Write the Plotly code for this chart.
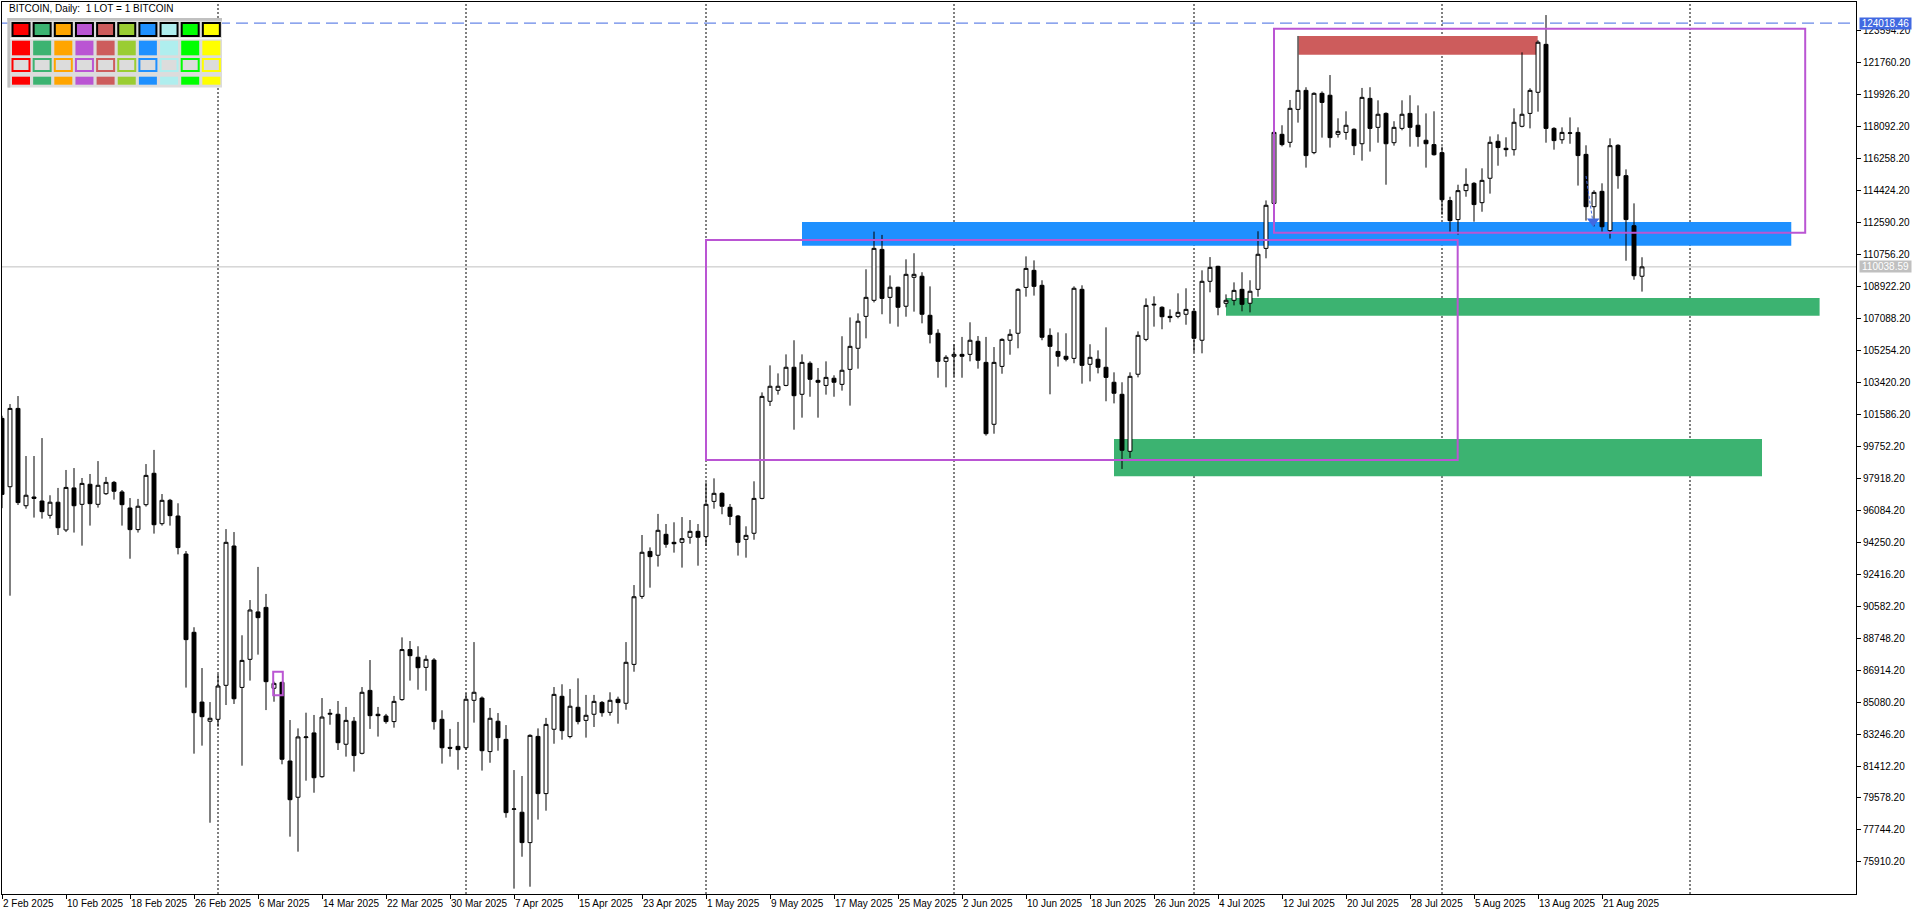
import pandas as pd
import plotly.graph_objects as go

BASE = pd.Timestamp("2025-02-02")
dates = pd.date_range(BASE, periods=206, freq="D")

opens = [
    101350, 97430, 101920, 96340, 96840, 96610, 95790, 96540, 94950, 97360,
    96420, 97570, 96420, 97030, 97680, 97130, 96210, 94970, 96400, 98200,
    95310, 96650, 95750, 93570, 89080, 85080, 83980, 84090, 86040, 94030,
    85920, 87530, 90250, 90510, 85870, 86210, 81700, 79620, 83040, 83310,
    80800, 84380, 84380, 82660, 83980, 82140, 85750, 84380, 84280, 83960,
    85220, 88090, 87650, 87070, 87490, 84090, 82480, 82540, 82460, 85180,
    85310, 82240, 83980, 82940, 78930, 78760, 77020, 83110, 79830, 83520,
    85410, 83100, 84780, 84030, 84380, 85060, 84490, 85240, 85010, 87240,
    91140, 93720, 93500, 94700, 94240, 94240, 94530, 94870, 94570, 96590,
    97050, 96250, 95750, 94410, 94760, 96760, 102330, 102960, 103240, 104280,
    102730, 104510, 103530, 103240, 103650, 103300, 104160, 105370, 107200, 108120,
    111040, 108290, 108870, 107780, 109440, 109500, 107260, 106230, 104620, 104910,
    105020, 105020, 105770, 104560, 101010, 104330, 105830, 106230, 108860, 109840,
    108980, 106110, 105190, 104910, 104790, 108750, 104450, 104740, 104280, 103420,
    102730, 99460, 103880, 105880, 107850, 107720, 107200, 107200, 107320, 107490,
    105830, 109210, 110070, 107950, 108120, 108750, 107950, 108750, 111100, 113680,
    117640, 117180, 119070, 120160, 116590, 119990, 119880, 117640, 117750, 117930,
    117100, 119700, 118040, 118840, 117160, 117980, 118840, 118160, 117300, 117050,
    116590, 113840, 112750, 114410, 114830, 113720, 115120, 117240, 116840, 116760,
    118100, 118840, 120050, 122800, 117980, 117330, 117700, 117750, 116490, 113490,
    114370, 112120, 117010, 115270, 112400, 109500,
]
highs = [
    101500, 102170, 102630, 99190, 99190, 100220, 96940, 97360, 98390, 98500,
    97930, 98160, 98900, 97990, 97760, 97240, 96780, 96730, 98730, 99540,
    97010, 96730, 96480, 93740, 89370, 87030, 85080, 86690, 95000, 94830,
    88910, 90930, 92830, 91280, 86250, 86250, 84050, 83570, 84470, 84340,
    85310, 84680, 85140, 84800, 84220, 85940, 87490, 84800, 84400, 85430,
    88790, 88580, 88280, 87760, 87600, 84610, 83540, 83940, 85580, 88520,
    85400, 84740, 84450, 83760, 81180, 80840, 83230, 83570, 84170, 85940,
    86100, 85830, 86440, 85490, 85490, 85140, 85640, 85390, 88520, 91790,
    94660, 93950, 95870, 95290, 95390, 95690, 95520, 95290, 97680, 97910,
    97110, 96440, 95810, 95160, 97740, 102840, 104390, 103930, 105020, 105830,
    105020, 104620, 104240, 104620, 103820, 106060, 107140, 107370, 109900, 112060,
    111870, 109550, 108900, 110470, 110820, 109730, 108920, 106460, 104970, 105600,
    106020, 106860, 106070, 106020, 105440, 105940, 106460, 108810, 110640, 110410,
    109270, 106510, 106280, 106230, 108920, 108980, 105600, 105250, 106570, 103990,
    103420, 103990, 106340, 108230, 108350, 107780, 107600, 108520, 108810, 107660,
    109840, 110600, 110100, 108460, 109150, 109730, 109270, 112080, 113850, 117900,
    118160, 119610, 123280, 120340, 120050, 120100, 121040, 118560, 118960, 117980,
    120300, 120340, 119590, 118900, 118390, 119590, 119880, 119300, 118840, 118960,
    116930, 114060, 114750, 115690, 114900, 115690, 117520, 117640, 117470, 119130,
    122340, 120280, 123030, 124480, 118050, 118040, 118610, 118040, 117010, 114430,
    114830, 117410, 117070, 115630, 113680, 110590,
]
lows = [
    96200, 91180, 96380, 96170, 95660, 95600, 95600, 94660, 94830, 94800,
    94050, 95200, 96230, 96960, 96690, 95200, 93300, 94800, 96290, 94740,
    95200, 95200, 93550, 85910, 82120, 82580, 78160, 83670, 84910, 84970,
    81430, 86310, 87800, 84620, 85100, 81510, 77360, 76500, 80570, 79880,
    80740, 83780, 82330, 81950, 81090, 82080, 83540, 83100, 83840, 83610,
    85160, 86310, 85790, 85730, 83500, 81550, 81950, 81200, 82330, 83900,
    81150, 81600, 82290, 78450, 74380, 76210, 74490, 78340, 78850, 82690,
    82920, 83000, 83800, 83040, 83650, 84240, 84300, 83840, 84640, 86820,
    91000, 91640, 92850, 93930, 93650, 92790, 94160, 92900, 94030, 96170,
    95850, 95230, 93480, 93360, 94390, 96710, 102060, 102710, 103190, 100700,
    101390, 102590, 101390, 102710, 102590, 102940, 102080, 104200, 105940, 108000,
    107320, 106780, 106610, 107180, 107470, 106800, 105650, 103680, 103130, 103740,
    103680, 104620, 104200, 100360, 100470, 103910, 105000, 105370, 108330, 108390,
    105830, 102730, 104320, 104620, 104510, 103340, 103470, 103930, 102330, 102210,
    98450, 99080, 103700, 105770, 106610, 106460, 106860, 107090, 106720, 105140,
    105080, 108580, 107260, 107720, 107830, 107490, 107430, 108330, 110530, 113500,
    116950, 116890, 118310, 115730, 116500, 117450, 116880, 117450, 117330, 116450,
    116130, 116650, 117160, 114750, 116990, 117870, 116930, 116930, 115730, 116420,
    113030, 112060, 111890, 114060, 112630, 113200, 114240, 115840, 116360, 116420,
    118040, 117980, 118940, 117160, 116760, 117100, 117100, 114700, 112690, 112360,
    112060, 111660, 114520, 110390, 109300, 108620,
]
closes = [
    96990, 101920, 96520, 96940, 96760, 96000, 96540, 95080, 97390, 96340,
    97620, 96460, 97510, 97680, 97170, 96400, 94970, 96310, 98080, 95250,
    96650, 95770, 93940, 88660, 84470, 84240, 84150, 86000, 94240, 85270,
    87470, 90360, 89920, 86250, 86150, 81800, 79480, 83080, 83080, 80740,
    84220, 84430, 82750, 84030, 82010, 85640, 84300, 84300, 83960, 85120,
    88090, 87740, 87050, 87530, 83960, 82460, 82430, 82350, 85240, 85640,
    82290, 84150, 83040, 78740, 78950, 77020, 83170, 79830, 83800, 85520,
    83440, 84840, 83960, 84320, 85120, 84470, 85180, 85050, 87360, 91120,
    93670, 93420, 94930, 94130, 94160, 94450, 94870, 94530, 96420, 97050,
    96310, 95730, 94240, 94640, 96760, 102610, 103190, 103190, 104280, 102650,
    104560, 103590, 103420, 103700, 103420, 104110, 105480, 106920, 108290, 111100,
    108230, 108870, 107720, 109610, 109610, 107320, 106170, 104620, 104850, 105020,
    104910, 105830, 104680, 100470, 104560, 105880, 106170, 108750, 109950, 108920,
    106000, 105480, 104910, 104740, 108810, 104390, 104850, 104280, 103700, 102790,
    99520, 103760, 106110, 107830, 107890, 107180, 107130, 107430, 107600, 105940,
    109210, 110010, 107720, 108120, 108690, 107890, 108640, 110760, 113570, 117750,
    117050, 119130, 120160, 116420, 119990, 119470, 117450, 117810, 118160, 116990,
    119760, 117980, 118790, 117100, 118040, 118790, 118040, 117510, 117100, 116470,
    113890, 112690, 114410, 114770, 113610, 115000, 117180, 116880, 116760, 118330,
    118790, 120160, 122920, 117980, 117280, 117750, 117720, 116420, 113490, 114310,
    112340, 116990, 115270, 112750, 109530, 110038.59,
]

# price axis labels and date labels
y_ticks = [123594.20 - 1834 * i for i in range(27)]
x_tick_days = list(range(0, 201, 8))

# drawn objects (day offsets from 2 Feb 2025, prices)
zone_start = [100, 153, 139, 162.08]
zone_end = [223.66, 227.2, 220.0, 191.96]
zone_low = [111253, 107238, 98027, 122206]
zone_high = [112612, 108253, 100166, 123279]
zone_colors = ["#1E90FF", "#3CB371", "#3CB371", "#CD5C5C"]

box_start = [88, 159, 33.9]
box_end = [181.96, 225.4, 35.1]
box_low = [98962, 111998, 85468]
box_high = [111579, 123697, 86821]

arrow_days = [198.0, 198.8]
arrow_prices = [115250, 112800]

high_line = 124018.46
last_price = 110038.59
month_days = [27, 58, 88, 119, 149, 180, 211]

palette = ["#FF0000", "#3CB371", "#FFA500", "#BA55D3", "#CD5C5C",
           "#9ACD32", "#1E90FF", "#AFEEEE", "#00FF00", "#FFFF00"]

AXFONT = dict(family="Liberation Sans", size=10, color="black")


def day(d):
    return (BASE + pd.Timedelta(days=d)).strftime("%Y-%m-%d %H:%M:%S")


# plot area in pixels: x 2..1856, y 2..894
def fx(px):
    return (px - 2) / 1854


def fy(py):
    return (894 - py) / 892


fig = go.Figure()
fig.add_trace(go.Candlestick(
    x=dates, open=opens, high=highs, low=lows, close=closes,
    increasing=dict(line=dict(color="black", width=1), fillcolor="white"),
    decreasing=dict(line=dict(color="black", width=1), fillcolor="black"),
    whiskerwidth=0, hoverinfo="skip", showlegend=False,
))
fig.add_trace(go.Scatter(
    x=[day(arrow_days[1] + 0.1)], y=[arrow_prices[1] - 150], mode="markers",
    marker=dict(symbol="triangle-down", size=11, color="#4169E1"),
    hoverinfo="skip", showlegend=False,
))

shapes = []
for s, e, lo, hi, c in zip(zone_start, zone_end, zone_low, zone_high, zone_colors):
    shapes.append(dict(type="rect", xref="x", yref="y", x0=day(s), x1=day(e), y0=lo, y1=hi,
                       fillcolor=c, line=dict(width=0), layer="below"))
for m in month_days:
    shapes.append(dict(type="line", xref="x", yref="paper", x0=day(m), x1=day(m), y0=0, y1=1,
                       line=dict(color="black", width=1, dash="2px,2px"), layer="below"))
shapes.append(dict(type="line", xref="paper", yref="y", x0=0, x1=1, y0=last_price, y1=last_price,
                   line=dict(color="#C0C0C0", width=1), layer="below"))
for s, e, lo, hi in zip(box_start, box_end, box_low, box_high):
    shapes.append(dict(type="rect", xref="x", yref="y", x0=day(s), x1=day(e), y0=lo, y1=hi,
                       line=dict(color="#BA55D3", width=2), fillcolor="rgba(0,0,0,0)", layer="above"))
shapes.append(dict(type="line", xref="x", yref="y", x0=day(arrow_days[0]), x1=day(arrow_days[1]),
                   y0=arrow_prices[0], y1=arrow_prices[1],
                   line=dict(color="#4169E1", width=1, dash="3px,2px"), layer="above"))
shapes.append(dict(type="line", xref="paper", yref="y", x0=0, x1=1, y0=high_line, y1=high_line,
                   line=dict(color="#4169E1", width=1, dash="12px,6px"), layer="above"))

# colour palette panel (top-left)
def prect(x0, y0, x1, y1, fill, line_color=None, lw=0):
    shapes.append(dict(type="rect", xref="paper", yref="paper",
                       x0=fx(x0), x1=fx(x1), y0=fy(y1), y1=fy(y0),
                       fillcolor=fill, line=dict(color=line_color or fill, width=lw), layer="above"))

prect(7.5, 18, 222, 87.5, "#DCDCDC")
prect(7.5, 18, 222, 20.7, "#C0C0C0")
prect(7.5, 18, 10.2, 87.5, "#C0C0C0")
prect(10.2, 38.2, 222, 39.2, "#FFFFFF")
for i, c in enumerate(palette):
    x0 = 12.5 + 21.15 * i
    x1 = x0 + 17.0
    prect(x0, 23, x1, 36, c, "black", 2)
    prect(x0 - 0.5, 40.7, x1 + 0.5, 55.3, c)
    prect(x0, 59, x1, 71, "#DCDCDC", c, 2)
    prect(x0 - 0.5, 76.7, x1 + 0.5, 84.7, c)

annotations = [
    dict(xref="paper", yref="paper", x=fx(7), y=fy(9), xanchor="left", yanchor="middle",
         text="BITCOIN, Daily:  1 LOT = 1 BITCOIN", showarrow=False,
         font=dict(family="Liberation Sans", size=10, color="black")),
    dict(xref="paper", yref="y", x=fx(1859), y=high_line, xanchor="left", yanchor="middle",
         text=f"{high_line:.2f}", showarrow=False, width=51, height=11, bgcolor="#4169E1",
         borderpad=0, font=dict(AXFONT, color="white")),
    dict(xref="paper", yref="y", x=fx(1859), y=last_price, xanchor="left", yanchor="middle",
         text=f"{last_price:.2f}", showarrow=False, width=51, height=11, bgcolor="#C0C0C0",
         borderpad=0, font=dict(AXFONT, color="white")),
]

fig.update_layout(
    width=1920, height=915,
    margin=dict(l=2, r=64, t=2, b=21, autoexpand=False),
    paper_bgcolor="white", plot_bgcolor="white",
    showlegend=False,
    shapes=shapes, annotations=annotations,
    xaxis=dict(
        type="date", range=[day(0), day(231.75)], rangeslider=dict(visible=False),
        showgrid=False, zeroline=False, showline=True, linecolor="black", linewidth=1, mirror=True,
        ticks="outside", ticklen=4, tickcolor="black", automargin=False, tickangle=0,
        tickvals=[day(d) for d in x_tick_days],
        ticktext=[(BASE + pd.Timedelta(days=d)).strftime("%-d %b %Y") for d in x_tick_days],
        ticklabelposition="outside right", tickfont=AXFONT,
    ),
    yaxis=dict(
        side="right", range=[74072, 125228.7], showgrid=False, zeroline=False,
        showline=True, linecolor="black", linewidth=1, mirror=True, automargin=False,
        ticks="outside", ticklen=4, tickcolor="black",
        tickvals=y_ticks, ticktext=[f"{v:.2f}" for v in y_ticks], tickfont=AXFONT,
    ),
)

# the page body has a default 8px margin; drop it so the figure sits at 0,0
fig.write_html("out.html", config={"displayModeBar": False},
               post_script="document.body.style.margin='0';")
